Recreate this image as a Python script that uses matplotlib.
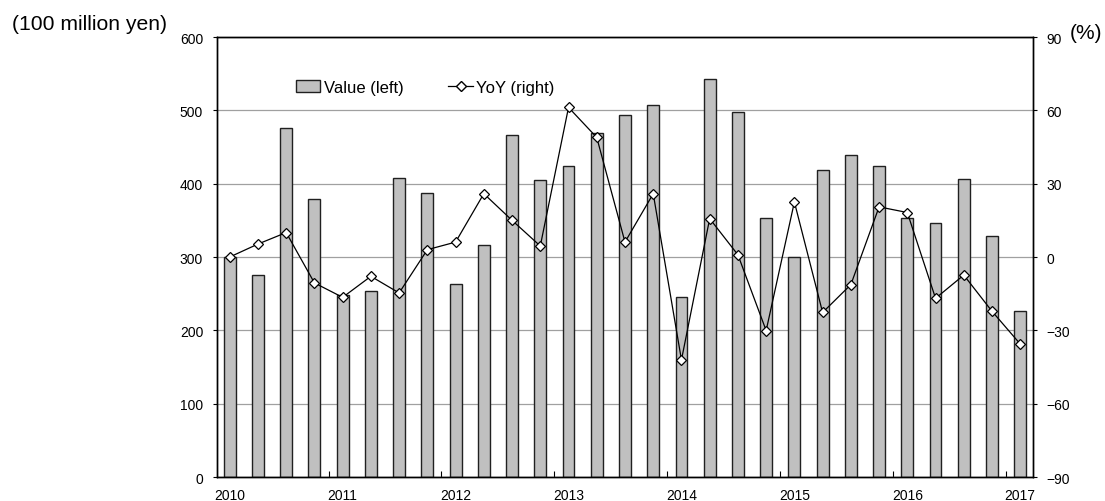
import numpy as np
import matplotlib
matplotlib.use("Agg")
import matplotlib.pyplot as plt
from matplotlib.lines import Line2D
from matplotlib.patches import Patch

plt.rcParams['font.family'] = ['Liberation Sans', 'DejaVu Sans']

# quarterly data, 2010 Q1 .. 2017 Q1
value = [300, 275, 476, 379, 248, 254, 408, 387, 263, 316, 466, 405, 424, 469, 494,
         507, 245, 543, 498, 353, 300, 419, 439, 424, 353, 346, 406, 329, 227]
yoy = [0, 5.3, 10, -10.6, -16.5, -7.9, -14.7, 3.0, 6.1, 25.9, 15, 4.5, 61.2, 48.9, 6.1,
       25.9, -42.1, 15.7, 0.9, -30.1, 22.5, -22.7, -11.3, 20.5, 18.2, -16.9, -7.4, -22.2, -35.6]
years = ['2010', '2011', '2012', '2013', '2014', '2015', '2016', '2017']

x = np.arange(len(value))

fig = plt.figure(figsize=(11.05, 5.02), dpi=100)
ax = fig.add_axes([0.1964, 0.0478, 0.7384, 0.8765])
ax2 = ax.twinx()

ax.bar(x, value, width=0.42, color='#c0c0c0', edgecolor='#202020', linewidth=1.0, zorder=2)
ax.set_axisbelow(True)
ax.yaxis.grid(True, color='#a0a0a0', linewidth=0.9)
ax.set_ylim(0, 600)
ax.set_yticks(range(0, 601, 100))
ax.set_xlim(-0.45, 28.45)

ax.set_xticks(np.arange(0, 29, 4))
ax.set_xticklabels(years)
ax.set_xticks(np.arange(3.5, 28, 4), minor=True)
ax.tick_params(axis='x', which='major', length=0, pad=8, labelsize=10)
ax.tick_params(axis='x', which='minor', direction='in', length=4, width=0.8)
ax.tick_params(axis='y', length=3, pad=7, labelsize=10)

ax2.plot(x, yoy, color='black', linewidth=0.9, marker='D', markersize=5,
         markerfacecolor='white', markeredgecolor='black', markeredgewidth=0.9, zorder=3)
ax2.set_ylim(-90, 90)
ax2.set_yticks(range(-90, 91, 30))
ax2.set_yticklabels([str(v).replace('-', '\u2212') for v in range(-90, 91, 30)])
ax2.tick_params(axis='y', length=3, pad=6.4, labelsize=10)

for a in (ax, ax2):
    for s in a.spines.values():
        s.set_color('black')
        s.set_linewidth(1.0)

handles = [Patch(facecolor='#c0c0c0', edgecolor='#202020', linewidth=1.0),
           Line2D([], [], color='black', linewidth=0.9, marker='D', markersize=5,
                  markerfacecolor='white', markeredgecolor='black')]
ax2.legend(handles, ['Value (left)', 'YoY (right)'], ncol=2, frameon=False,
           loc='center left', bbox_to_anchor=(0.097, 0.886), borderaxespad=0,
           borderpad=0, fontsize=12, handlelength=1.45, handletextpad=0.2,
           columnspacing=2.7)

fig.text(0.011, 0.952, '(100 million yen)', fontsize=15.2, va='center', ha='left')
fig.text(0.968, 0.933, '(%)', fontsize=15, va='center', ha='left')

fig.savefig('out.png', dpi=100)
